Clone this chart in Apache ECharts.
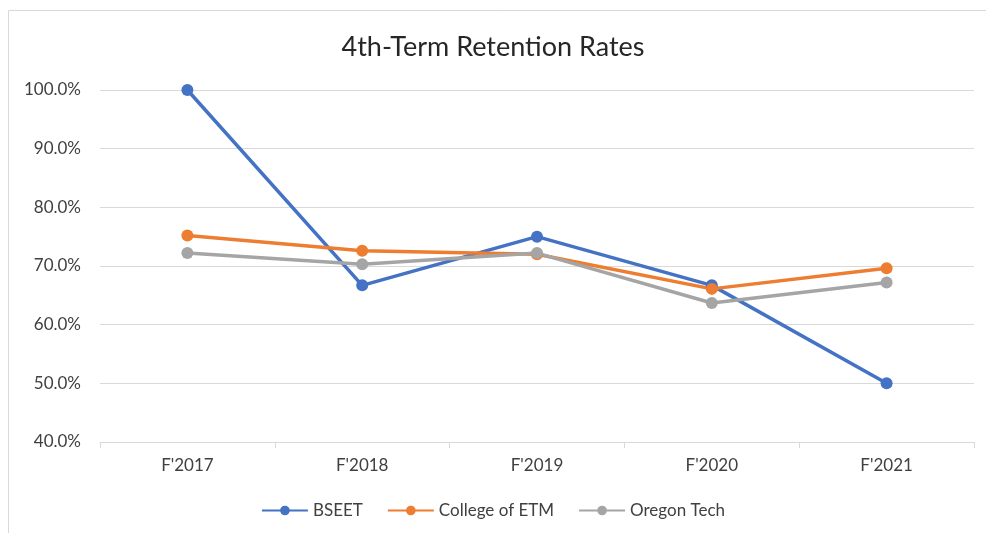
<!DOCTYPE html>
<html>
<head>
<meta charset="UTF-8">
<title>4th-Term Retention Rates</title>
<script type="text/javascript" src="https://cdn.jsdelivr.net/npm/echarts@6/dist/echarts.min.js"></script>
<style>
html, body { margin: 0; padding: 0; background: #fff; }
#main { width: 986px; height: 533px; }
</style>
</head>
<body>
<div id="main"></div>
<script type="text/javascript">
	var terms = ["F'2017", "F'2018", "F'2019", "F'2020", "F'2021"];
	var bseet = [100.0, 66.7, 75.0, 66.7, 50.0];
	var collegeEtm = [75.2, 72.6, 72.0, 66.1, 69.6];
	var oregonTech = [72.2, 70.3, 72.2, 63.7, 67.2];

	var mychart = echarts.init(document.getElementById('main'));

	function lineSeries(name, data, color) {
		return {
			name: name,
			type: 'line',
			data: data,
			symbol: 'circle',
			symbolSize: 12,
			lineStyle: { width: 3.5, color: color },
			itemStyle: { color: color }
		};
	}

	var option = {
		textStyle: { fontFamily: 'Lato, "Noto Sans", sans-serif' },
		graphic: [{
			type: 'rect',
			shape: { x: 8.5, y: 10.5, width: 990, height: 540 },
			style: { fill: 'none', stroke: '#d9d9d9', lineWidth: 1 },
			silent: true
		}],
		title: {
			text: '4th-Term Retention Rates',
			left: 'center',
			top: 29,
			textStyle: { fontSize: 27, fontWeight: 'normal', color: '#262626' }
		},
		legend: {
			data: ['BSEET', 'College of ETM', 'Oregon Tech'],
			bottom: 9,
			left: 'center',
			itemWidth: 46,
			itemHeight: 12,
			itemGap: 24,
			textStyle: { fontSize: 17, color: '#404040' }
		},
		grid: { left: 100, right: 12, top: 90, bottom: 91 },
		xAxis: {
			type: 'category',
			boundaryGap: true,
			data: terms,
			axisLine: { lineStyle: { color: '#d9d9d9', width: 1 } },
			axisTick: { show: true, length: 6, lineStyle: { color: '#d9d9d9' } },
			axisLabel: { fontSize: 17, color: '#404040', margin: 15 }
		},
		yAxis: {
			type: 'value',
			min: 40,
			max: 100,
			interval: 10,
			axisLine: { show: false },
			axisTick: { show: false },
			splitLine: { lineStyle: { color: '#d9d9d9', width: 1 } },
			axisLabel: {
				fontSize: 17,
				color: '#404040',
				margin: 19,
				formatter: function (v) { return v.toFixed(1) + '%'; }
			}
		},
		series: [
			lineSeries('BSEET', bseet, '#4472C4'),
			lineSeries('College of ETM', collegeEtm, '#ED7D31'),
			lineSeries('Oregon Tech', oregonTech, '#A5A5A5')
		]
	};

	mychart.setOption(option);
</script>
</body>
</html>
